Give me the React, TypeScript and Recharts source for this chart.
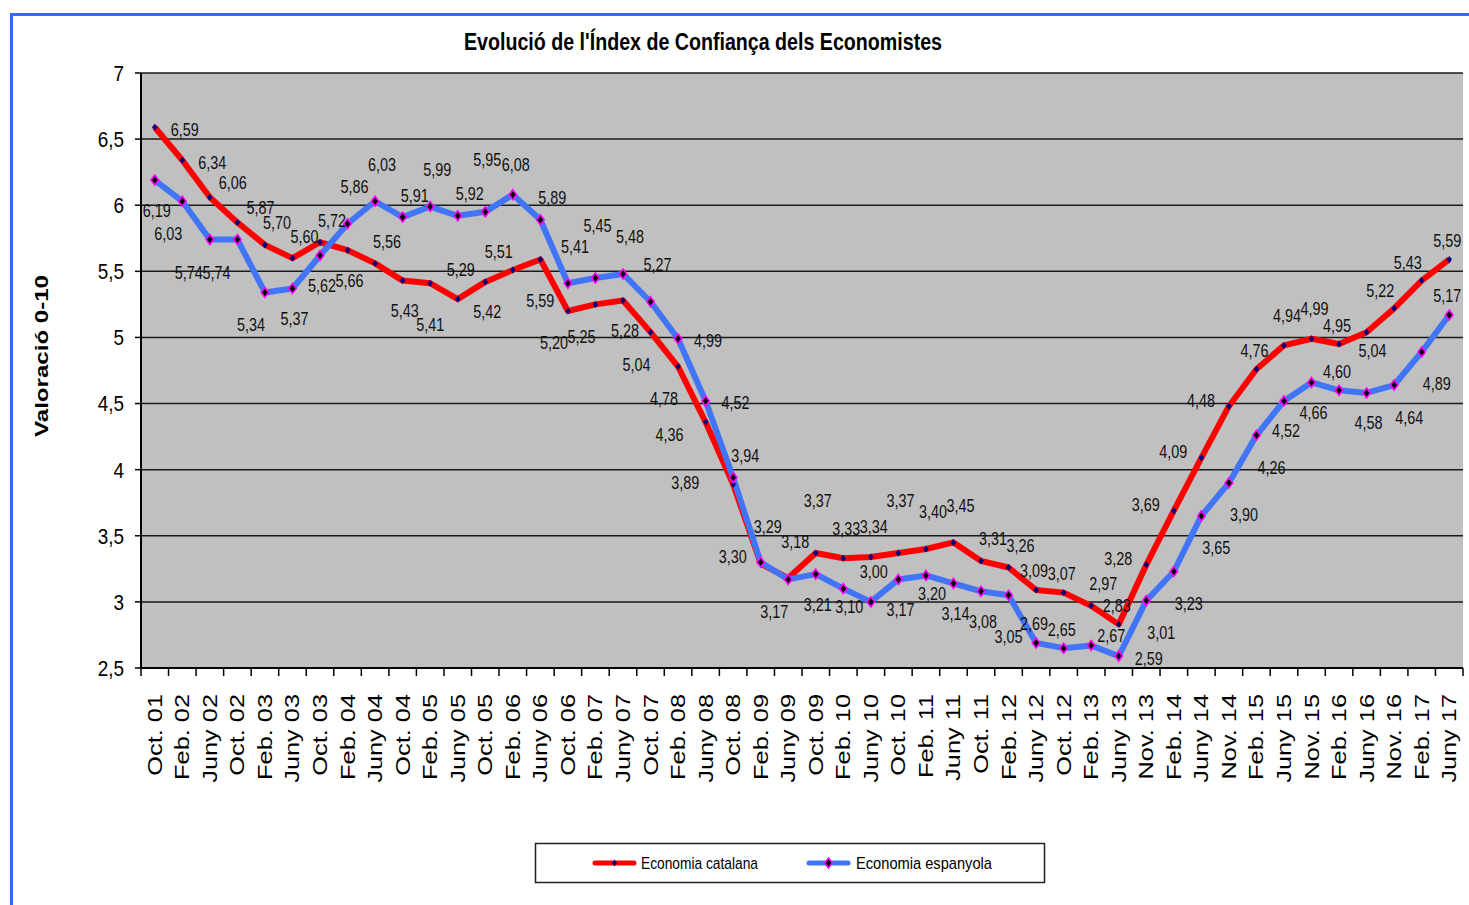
import React from "react";
import { LineChart, Line, XAxis, YAxis, CartesianGrid, LabelList } from "recharts";

const periods = [
  "Oct. 01", "Feb. 02", "Juny 02", "Oct. 02", "Feb. 03", "Juny 03", "Oct. 03", "Feb. 04",
  "Juny 04", "Oct. 04", "Feb. 05", "Juny 05", "Oct. 05", "Feb. 06", "Juny 06", "Oct. 06",
  "Feb. 07", "Juny 07", "Oct. 07", "Feb. 08", "Juny 08", "Oct. 08", "Feb. 09", "Juny 09",
  "Oct. 09", "Feb. 10", "Juny 10", "Oct. 10", "Feb. 11", "Juny 11", "Oct. 11", "Feb. 12",
  "Juny 12", "Oct. 12", "Feb. 13", "Juny 13", "Nov. 13", "Feb. 14", "Juny 14", "Nov. 14",
  "Feb. 15", "Juny 15", "Nov. 15", "Feb. 16", "Juny 16", "Nov. 16", "Feb. 17", "Juny 17",
];

const catalana = [
  6.59, 6.34, 6.06, 5.87, 5.70, 5.60, 5.72, 5.66, 5.56, 5.43, 5.41, 5.29, 5.42, 5.51, 5.59, 5.2,
  5.25, 5.28, 5.04, 4.78, 4.36, 3.89, 3.29, 3.18, 3.37, 3.33, 3.34, 3.37, 3.40, 3.45, 3.31, 3.26,
  3.09, 3.07, 2.97, 2.83, 3.28, 3.69, 4.09, 4.48, 4.76, 4.94, 4.99, 4.95, 5.04, 5.22, 5.43, 5.59,
];

const espanyola = [
  6.19, 6.03, 5.74, 5.74, 5.34, 5.37, 5.62, 5.86, 6.03, 5.91, 5.99, 5.92, 5.95, 6.08, 5.89, 5.41,
  5.45, 5.48, 5.27, 4.99, 4.52, 3.94, 3.30, 3.17, 3.21, 3.10, 3.00, 3.17, 3.20, 3.14, 3.08, 3.05,
  2.69, 2.65, 2.67, 2.59, 3.01, 3.23, 3.65, 3.90, 4.26, 4.52, 4.66, 4.60, 4.58, 4.64, 4.89, 5.17,
];

const yTicks = [2.5, 3, 3.5, 4, 4.5, 5, 5.5, 6, 6.5, 7];

// where each data label sits around its point (hand placed in the original)
const catalanaPos = [
  "R", "R", "Ur", "Ur", "UR", "UR", "UR", "D", "UR", "D", "D2", "U", "D", "UL", "D2", "DL",
  "DL", "D", "DL", "DL", "LD", "L2", "Um", "Um", "U2", "U", "U", "U2", "Um", "Um", "UR", "UR",
  "u", "u", "UR", "u", "L", "L", "L", "L", "u", "U", "U", "u", "d", "UL", "UL", "u",
];
const espanyolaPos = [
  "D", "DL", "DLL", "DLL", "DL", "D", "D", "Um", "Um", "UR", "Um", "UR", "U2", "U", "UR", "Um",
  "U2", "Um", "Um", "R", "R", "UR", "L", "DL", "D", "d", "U", "D", "d", "D", "D", "D2",
  "u", "u", "r", "R", "DR", "DR", "DR", "DR", "DR", "D", "D", "u", "D", "DR", "DR", "u",
];

const OFFSETS: Record<string, [number, number]> = {
  U: [3, -30], Um: [7, -37], U2: [2, -52], u: [-2, -19],
  UR: [12, -22], Ur: [23, -15], UL: [-14, -18],
  R: [30, 2], r: [20, -10], L: [-28, -6], L2: [-48, -2], LD: [-36, 12],
  D: [2, 30], D2: [0, 41], d: [6, 18], DL: [-14, 32], DLL: [-21, 33], DR: [15, 32],
};

const W = 1469;
const H = 905;
const PLOT = { left: 141, top: 73, right: 1463, bottom: 668 };
const BAND = (PLOT.right - PLOT.left) / periods.length;
const SANS = "'Liberation Sans', Arial, sans-serif";
const RED = "#ff0000";
const BLUE = "#4174f7";

const rows = periods.map((p, i) => ({ period: p, cat: catalana[i], esp: espanyola[i] }));

const comma = (v: number) => v.toFixed(2).replace(".", ",");

const RedDot = (props: any) => {
  const { cx, cy, index } = props;
  if (cx == null || cy == null) return <g key={`rd-${index}`} />;
  return (
    <polygon
      key={`rd-${index}`}
      points={`${cx},${cy - 3.5} ${cx + 2.8},${cy} ${cx},${cy + 3.5} ${cx - 2.8},${cy}`}
      fill="#000080"
    />
  );
};

const BlueDot = (props: any) => {
  const { cx, cy, index } = props;
  if (cx == null || cy == null) return <g key={`bd-${index}`} />;
  return (
    <polygon
      key={`bd-${index}`}
      points={`${cx},${cy - 5} ${cx + 3.8},${cy} ${cx},${cy + 5} ${cx - 3.8},${cy}`}
      fill="#000"
      stroke="#ff00ff"
      strokeWidth={1.6}
    />
  );
};

// the original uses a condensed face, squeeze regular Liberation Sans horizontally
const makeLabel = (codes: string[]) => (props: any) => {
  const { x, y, value, index } = props;
  const [dx, dy] = OFFSETS[codes[index]] ?? [0, -24];
  return (
    <g key={`lb-${index}`} transform={`translate(${x + dx}, ${y + dy}) scale(0.8, 1)`}>
      <text x={0} y={0} dy="0.36em" textAnchor="middle" fontFamily={SANS} fontSize={18} fill="#111">
        {comma(Number(value))}
      </text>
    </g>
  );
};

const ValueTick = (props: any) => {
  const { x, y, payload } = props;
  return (
    <g transform={`translate(${x}, ${y}) scale(0.86, 1)`}>
      <text x={0} y={0} dy="0.36em" textAnchor="end" fontFamily={SANS} fontSize={22} fill="#000">
        {String(payload.value).replace(".", ",")}
      </text>
    </g>
  );
};

const PeriodTick = (props: any) => {
  const { x, payload, index } = props;
  const half = BAND / 2;
  return (
    <g>
      <line x1={x - half} x2={x - half} y1={PLOT.bottom} y2={PLOT.bottom + 8} stroke="#000" strokeWidth={1.5} />
      {index === periods.length - 1 && (
        <line x1={x + half} x2={x + half} y1={PLOT.bottom} y2={PLOT.bottom + 8} stroke="#000" strokeWidth={1.5} />
      )}
      <g transform={`translate(${x + 7}, ${PLOT.bottom + 26}) rotate(-90)`}>
        <text transform="scale(1.3,1)" textAnchor="end" fontFamily={SANS} fontSize={19.5} fill="#000">
          {payload.value}
        </text>
      </g>
    </g>
  );
};

export default function App() {
  return (
    <div style={{ position: "fixed", left: 0, top: 0, width: W, height: H, background: "#fff", overflow: "hidden" }}>
      {/* blue frame of the original sheet */}
      <div
        style={{
          position: "absolute",
          left: 10,
          top: 13,
          width: W,
          height: H,
          borderTop: "3px solid #2f6cf3",
          borderLeft: "3px solid #2f6cf3",
        }}
      />
      <div style={{ position: "absolute", left: 0, top: 0 }}>
        <LineChart
          width={W}
          height={H}
          data={rows}
          margin={{ top: PLOT.top, right: W - PLOT.right, bottom: H - PLOT.bottom - 120, left: 0 }}
        >
          <CartesianGrid vertical={false} stroke="#1a1a1a" strokeWidth={1.5} fill="#c0c0c0" fillOpacity={1} />
          <XAxis
            dataKey="period"
            interval={0}
            height={120}
            padding={{ left: BAND / 2, right: BAND / 2 }}
            tickLine={false}
            axisLine={{ stroke: "#000", strokeWidth: 2 }}
            tick={<PeriodTick />}
          />
          <YAxis
            width={PLOT.left}
            domain={[2.5, 7]}
            ticks={yTicks}
            allowDataOverflow
            tickSize={6}
            tickMargin={11}
            tick={<ValueTick />}
            tickLine={{ stroke: "#000", strokeWidth: 1.5 }}
            axisLine={{ stroke: "#000", strokeWidth: 2 }}
          />
          <YAxis
            yAxisId="frame"
            orientation="right"
            width={0}
            domain={[2.5, 7]}
            tick={false}
            tickLine={false}
            axisLine={{ stroke: "#808080", strokeWidth: 2 }}
          />
          <Line
            type="linear"
            dataKey="cat"
            stroke={RED}
            strokeWidth={6}
            strokeLinejoin="round"
            dot={RedDot}
            activeDot={false}
            isAnimationActive={false}
          />
          <Line
            type="linear"
            dataKey="esp"
            stroke={BLUE}
            strokeWidth={6}
            strokeLinejoin="round"
            dot={BlueDot}
            activeDot={false}
            isAnimationActive={false}
          />
          {/* label-only layers so the numbers sit above both lines */}
          <Line dataKey="cat" stroke="none" dot={false} activeDot={false} isAnimationActive={false}>
            <LabelList dataKey="cat" content={makeLabel(catalanaPos)} />
          </Line>
          <Line dataKey="esp" stroke="none" dot={false} activeDot={false} isAnimationActive={false}>
            <LabelList dataKey="esp" content={makeLabel(espanyolaPos)} />
          </Line>
        </LineChart>
      </div>
      <svg width={W} height={H} style={{ position: "absolute", left: 0, top: 0, pointerEvents: "none" }}>
        <text
          x={464}
          y={50}
          textLength={478}
          lengthAdjust="spacingAndGlyphs"
          fontFamily={SANS}
          fontWeight="bold"
          fontSize={23}
          fill="#000"
        >
          Evolució  de l'Índex de Confiança dels Economistes
        </text>
        <text
          transform="translate(48, 356) rotate(-90)"
          textAnchor="middle"
          textLength={162}
          lengthAdjust="spacingAndGlyphs"
          fontFamily={SANS}
          fontWeight="bold"
          fontSize={19}
          fill="#000"
        >
          Valoració 0-10
        </text>
        {/* legend */}
        <rect x={535.5} y={843.5} width={509} height={39} fill="#fff" stroke="#222" strokeWidth={1.5} />
        <line x1={595} x2={634} y1={863} y2={863} stroke={RED} strokeWidth={5} strokeLinecap="round" />
        <polygon points="614.5,859.5 617,863 614.5,866.5 612,863" fill="#000080" />
        <text x={641} y={869} textLength={117} lengthAdjust="spacingAndGlyphs" fontFamily={SANS} fontSize={17} fill="#000">
          Economia catalana
        </text>
        <line x1={809} x2={848} y1={863} y2={863} stroke={BLUE} strokeWidth={5} strokeLinecap="round" />
        <polygon points="828.5,858 832.3,863 828.5,868 824.7,863" fill="#000" stroke="#ff00ff" strokeWidth={1.6} />
        <text x={856} y={869} textLength={136} lengthAdjust="spacingAndGlyphs" fontFamily={SANS} fontSize={17} fill="#000">
          Economia espanyola
        </text>
      </svg>
    </div>
  );
}
